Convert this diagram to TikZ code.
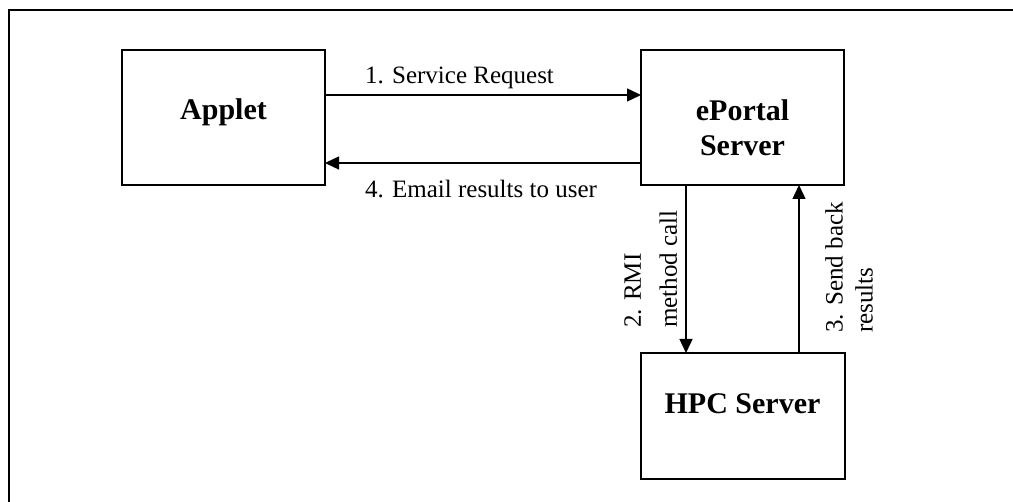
\documentclass[tikz,border=0pt]{standalone}
\usepackage{fontspec}
\setmainfont{Liberation Serif}
\usetikzlibrary{arrows.meta}
\begin{document}
\begin{tikzpicture}[x=1pt,y=-1pt,
  boxst/.style={draw=black,line width=2pt},
  arr/.style={line width=1.4pt,-{Triangle[length=14pt,width=13pt]}},
  title/.style={font=\fontsize{30}{35}\selectfont\bfseries,inner sep=0pt,align=center},
  lbl/.style={font=\fontsize{25}{30}\selectfont,inner sep=0pt}]
\useasboundingbox[fill=white] (0,0) rectangle (1013,502);
\draw[line width=2.5pt] (9,10) rectangle (1030,530);
% boxes
\draw[boxst] (122,50) rectangle (325,185);
\draw[boxst] (641,50) rectangle (844,185);
\draw[boxst] (641,353) rectangle (845,479);
\coordinate (appletE1) at (325,95);
\coordinate (portalW1) at (641,95);
\coordinate (appletE4) at (325,163);
\coordinate (portalW4) at (641,163);
\coordinate (portalS2) at (686,185);
\coordinate (hpcN2) at (686,353);
\coordinate (portalS3) at (799,185);
\coordinate (hpcN3) at (799,353);
\node[title,anchor=base] (applet) at (223.5,120) {Applet};
\node[title,anchor=center] (eportal) at (742.5,127.5) {ePortal\\Server};
\node[title,anchor=base] (hpc) at (742.5,414) {HPC Server};
% connectors
\draw[arr] (appletE1) -- (portalW1);
\draw[arr] (portalW4) -- (appletE4);
\draw[arr] (portalS2) -- (hpcN2);
\draw[arr] (hpcN3) -- (portalS3);
% labels
\node[lbl,anchor=base] (l1) at (459.5,84) {1. Service Request};
\node[lbl,anchor=base] (l4) at (481,198) {4. Email results to user};
\node[lbl,font=\fontsize{25}{36}\selectfont,rotate=90,anchor=north west,align=left] (l2) at (624,328) {2. RMI\\method call};
\node[lbl,font=\fontsize{25}{30}\selectfont,rotate=90,anchor=north west,align=left] (l3) at (825,333) {3. Send back\\results};
\end{tikzpicture}
\end{document}
